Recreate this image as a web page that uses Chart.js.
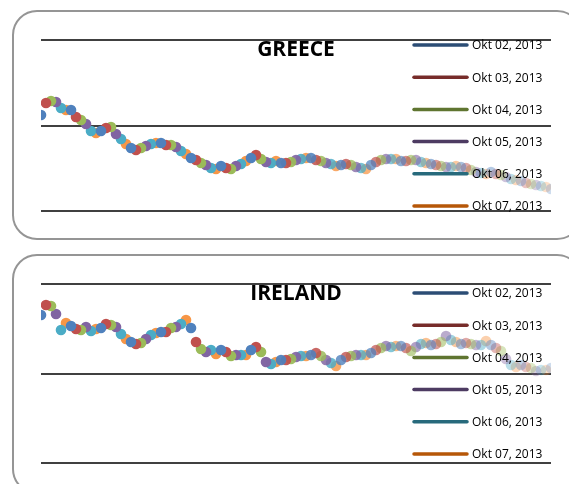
<!DOCTYPE html>
<html>
<head>
<meta charset="utf-8">
<script src="https://cdn.jsdelivr.net/npm/chart.js@4.4.0/dist/chart.umd.min.js"></script>
<style>
  body { margin: 0; background: #fff; width: 569px; height: 484px; overflow: hidden; position: relative; }
  .panel { position: absolute; left: 12px; width: 570px; border: 2px solid #959595; border-radius: 25px; box-sizing: border-box; }
  #p1 { top: 10px; height: 230px; }
  #p2 { top: 254px; height: 240px; }
  canvas { position: absolute; left: 0; }
  #greeceChart { top: 0; }
  #irelandChart { top: 244px; }
</style>
</head>
<body>
<div class="panel" id="p1"></div>
<div class="panel" id="p2"></div>
<canvas id="greeceChart" width="569" height="245"></canvas>
<canvas id="irelandChart" width="569" height="240"></canvas>
<script>
// --- Data ---
const dates = ['Okt 02, 2013', 'Okt 03, 2013', 'Okt 04, 2013', 'Okt 05, 2013', 'Okt 06, 2013', 'Okt 07, 2013'];

const greece = [96, 108, 110, 109, 103, 101, 101, 94, 91, 87, 80, 78, 80, 83, 84, 77, 72, 67, 63, 61,
  63, 65, 67, 68, 68, 66, 66, 64, 60, 57, 53, 51, 48, 46, 43, 42, 45, 43, 42, 45,
  47, 50, 53, 56, 52, 49, 48, 50, 48, 48, 49, 51, 52, 53, 53, 51, 50, 48, 47, 45,
  46, 47, 46, 44, 43, 42, 46, 49, 51, 52, 52, 52, 50, 50, 51, 51, 49, 48, 47, 46,
  45, 44, 44, 45, 44, 43, 41, 39, 38, 37, 39, 37, 36, 34, 32, 31, 30, 28, 27, 26,
  25, 24, 22];

const ireland = [148, 158, 157, 149, 133, 140, 137, 134, 133, 136, 132, 134, 135, 139, 138, 136, 129, 124, 121, 119,
  120, 124, 128, 130, 131, 131, 135, 136, 139, 143, 135, 121, 114, 111, 113, 109, 113, 111, 107, 108,
  108, 108, 113, 116, 111, 101, 99, 101, 103, 103, 104, 106, 107, 107, 108, 110, 107, 103, 100, 97,
  103, 106, 107, 108, 108, 108, 110, 113, 115, 117, 116, 117, 117, 115, 112, 116, 119, 120, 118, 119,
  121, 127, 123, 121, 119, 120, 119, 118, 118, 122, 118, 115, 112, 104, 98, 96, 98, 96, 95, 92,
  93, 93, 95];

// axis ranges (3 gridlines each)
const greeceAxis = [0, 85.5, 171];
const irelandAxis = [0, 89.5, 179];

// --- Styles ---
const pointColors = ['#4F81BD', '#C0504D', '#9BBB59', '#8064A2', '#4BACC6', '#F79646'];
const legendColors = ['#2C4D75', '#772C2A', '#5F7530', '#4D3B62', '#276A7C', '#B65708'];

function rgba(hex, a) {
    const n = parseInt(hex.slice(1), 16);
    return `rgba(${(n >> 16) & 255},${(n >> 8) & 255},${n & 255},${a})`;
}

// points fade out towards the right side
function fade(i, n) {
    const start = Math.round(n * 0.43);
    if (i < start) return 1;
    return 1 - 0.72 * (i - start) / (n - 1 - start);
}

// --- Title + legend drawn over the plot (legend overlaps data like the original) ---
const overlayPlugin = {
    id: 'overlay',
    afterDraw(chart, args, opts) {
        const c = chart.ctx;
        c.save();
        c.fillStyle = '#000';
        c.font = 'bold 21px "Open Sans"';
        c.textAlign = 'center';
        c.textBaseline = 'alphabetic';
        c.fillText(opts.title, opts.titleX, opts.titleY);

        c.font = '12px "Open Sans"';
        c.textAlign = 'left';
        c.textBaseline = 'middle';
        chart.data.datasets.forEach((ds, k) => {
            const y = opts.legendTop + k * opts.legendStep;
            c.strokeStyle = ds.borderColor;
            c.lineWidth = 3.5;
            c.lineCap = 'round';
            c.beginPath();
            c.moveTo(414, y);
            c.lineTo(467, y);
            c.stroke();
            c.fillStyle = '#000';
            c.fillText(ds.label, 472, y + 1);
        });
        c.restore();
    }
};

function buildDatasets(values) {
    return dates.map((label, k) => ({
        label: label,
        data: values.map((v, i) => ({ x: i, y: v })).filter(p => p.x % dates.length === k),
        borderColor: legendColors[k],
        pointBackgroundColor: ctx => rgba(pointColors[k], fade(ctx.raw ? ctx.raw.x : 0, values.length)),
        pointBorderWidth: 0,
        pointRadius: 5.3,
        pointHoverRadius: 5.3,
        showLine: false
    }));
}

function makeChart(id, values, axis, title, padding, legendTop) {
    const ctx = document.getElementById(id).getContext('2d');
    return new Chart(ctx, {
        type: 'scatter',
        data: { datasets: buildDatasets(values) },
        options: {
            responsive: false,
            animation: false,
            events: [],
            layout: { padding: padding },
            plugins: {
                legend: { display: false },
                tooltip: { enabled: false },
                overlay: {
                    title: title,
                    titleX: 296,
                    titleY: 56,
                    legendTop: legendTop,
                    legendStep: 32.2
                }
            },
            scales: {
                x: { type: 'linear', display: false, min: 0, max: values.length - 1 },
                y: {
                    min: axis[0],
                    max: axis[2],
                    ticks: { display: false, stepSize: axis[1] - axis[0] },
                    border: { display: false },
                    grid: { color: '#404040', lineWidth: 2, drawTicks: false }
                }
            }
        },
        plugins: [overlayPlugin]
    });
}

makeChart('greeceChart', greece, greeceAxis, 'GREECE', { left: 41, right: 18, top: 40, bottom: 34 }, 45);
makeChart('irelandChart', ireland, irelandAxis, 'IRELAND', { left: 41, right: 18, top: 40, bottom: 21 }, 49);
</script>
</body>
</html>
